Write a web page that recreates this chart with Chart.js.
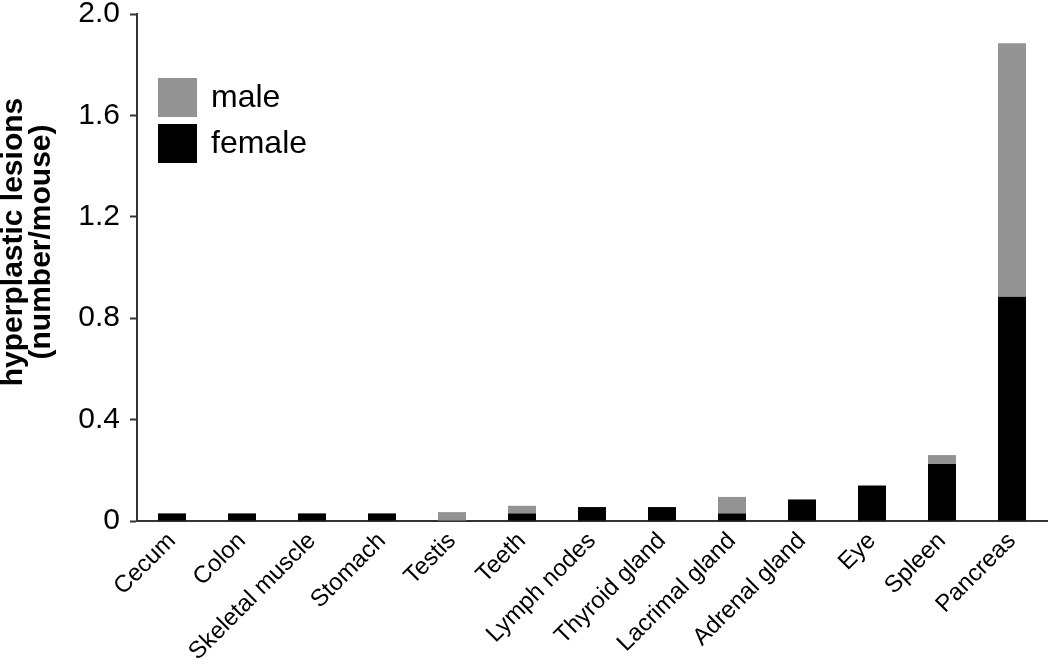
<!DOCTYPE html>
<html>
<head>
<meta charset="utf-8">
<script src="https://cdn.jsdelivr.net/npm/chart.js@4"></script>
<style>
  html, body { margin:0; padding:0; background:#fff; }
  #wrap { width:1050px; height:666px; position:relative; }
</style>
</head>
<body>
<div id="wrap"><canvas id="chart"></canvas></div>
<script>
// ── Data ────────────────────────────────────────────────────────────────────
const organs = ['Cecum','Colon','Skeletal muscle','Stomach','Testis','Teeth','Lymph nodes',
                'Thyroid gland','Lacrimal gland','Adrenal gland','Eye','Spleen','Pancreas'];
const female = [0.03, 0.03, 0.03, 0.03, 0,     0.03, 0.055, 0.055, 0.03,  0.085, 0.14, 0.225, 0.885];
const male   = [0,    0,    0,    0,    0.035, 0.03, 0,     0,     0.065, 0,     0,    0.035, 1.0];
const yTicks = [0, 0.4, 0.8, 1.2, 1.6, 2.0];

const GREY = '#939393';
const FONT = '"Liberation Sans", Arial, sans-serif';

// legend + axis title drawn by hand so they sit where the figure has them
const extras = {
  id: 'extras',
  afterDraw(chart) {
    const ctx = chart.ctx;
    ctx.save();
    // legend
    const items = [{ label:'male', color:GREY }, { label:'female', color:'#000' }];
    items.forEach((it, i) => {
      const y = 78 + i * 46;
      ctx.fillStyle = it.color;
      ctx.fillRect(158, y, 39, 39);
      ctx.fillStyle = '#000';
      ctx.font = '32px ' + FONT;
      ctx.textBaseline = 'alphabetic';
      ctx.textAlign = 'left';
      ctx.fillText(it.label, 211, y + 29);
    });
    // y title
    ctx.translate(0, 242);
    ctx.rotate(-Math.PI / 2);
    ctx.font = 'bold 30px ' + FONT;
    ctx.textAlign = 'center';
    ctx.textBaseline = 'middle';
    ctx.fillText('hyperplastic lesions', 0, 14);
    ctx.fillText('(number/mouse)', 0, 42);
    ctx.restore();
  }
};

new Chart(document.getElementById('chart'), {
  type: 'bar',
  data: {
    labels: organs,
    datasets: [
      { label:'female', data: female, backgroundColor:'#000', stack:'s' },
      { label:'male',   data: male,   backgroundColor:GREY,  stack:'s' }
    ]
  },
  options: {
    responsive: true,
    maintainAspectRatio: false,
    animation: false,
    layout: { padding: { top: 0, right: 3 } },
    datasets: { bar: { barPercentage: 0.4, categoryPercentage: 1.0 } },
    plugins: { legend: { display:false }, tooltip: { enabled:false } },
    scales: {
      x: {
        stacked: true,
        grid: { display:false, drawTicks:false },
        border: { color:'#333', width:2 },
        ticks: { color:'#000', font:{ family:FONT, size:24 }, minRotation:45, maxRotation:45, padding:6 },
        afterFit(s) { s.height = 145; }
      },
      y: {
        stacked: true,
        min: 0, max: 2.0,
        afterBuildTicks(s) { s.ticks = yTicks.map(v => ({ value: v })); },
        grid: { display:true, drawOnChartArea:false, drawTicks:true, tickLength:7, tickColor:'#333', tickWidth:2 },
        border: { color:'#333', width:2 },
        ticks: {
          color:'#000', font:{ family:FONT, size:30 }, padding:10,
          callback: v => v === 0 ? '0' : v.toFixed(1)
        },
        afterFit(s) { s.width = 137; s.paddingTop = 14; s.paddingBottom = 0; }
      }
    }
  },
  plugins: [extras]
});
</script>
</body>
</html>
